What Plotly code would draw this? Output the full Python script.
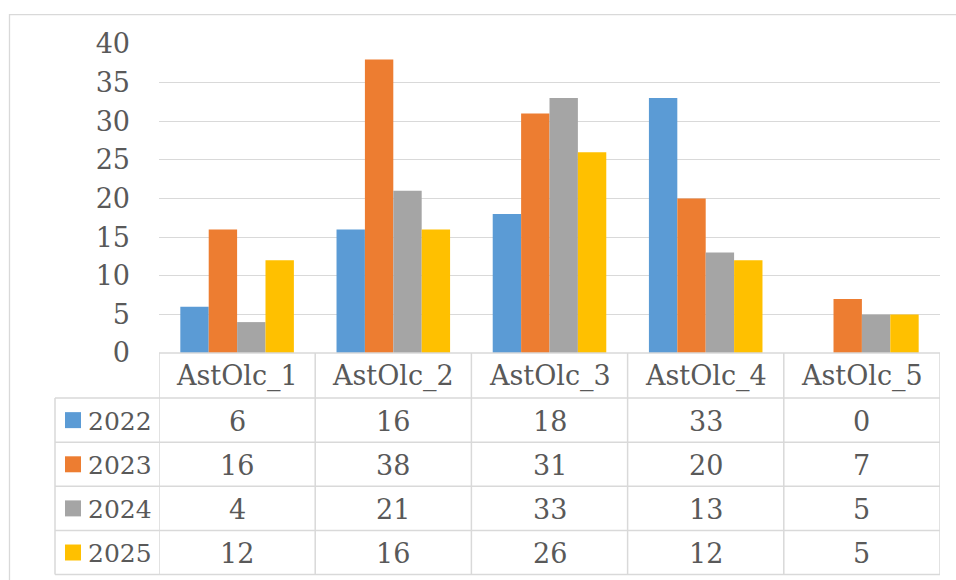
import plotly.graph_objects as go

categories = ["AstOlc_1", "AstOlc_2", "AstOlc_3", "AstOlc_4", "AstOlc_5"]
series_names = ["2022", "2023", "2024", "2025"]
v2022 = [6, 16, 18, 33, 0]
v2023 = [16, 38, 31, 20, 7]
v2024 = [4, 21, 33, 13, 5]
v2025 = [12, 16, 26, 12, 5]
series_values = [v2022, v2023, v2024, v2025]
colors = ["#5B9BD5", "#ED7D31", "#A5A5A5", "#FFC000"]
y_ticks = [0, 5, 10, 15, 20, 25, 30, 35, 40]

# ---- layout geometry (pixels) ----
FW, FH = 956, 580
L, R, T = 159, 16, 44
PLOT_BOTTOM = 353.3
B = FH - PLOT_BOTTOM
PW = FW - L - R
PH = FH - T - B

FONT = "DejaVu Serif"
TXT = "#595959"
GRID = "#D9D9D9"
FS = 27
FS_LEG = 25


def px_x(px):
    return (px - L) / PW


def px_y(py):
    return (FH - B - py) / PH


fig = go.Figure()
for name, vals, col in zip(series_names, series_values, colors):
    fig.add_trace(go.Bar(x=categories, y=vals, name=name, marker=dict(color=col, line=dict(width=0))))

shapes = []
annotations = []

# outer chart frame
shapes.append(dict(type="rect", xref="paper", yref="paper",
                   x0=px_x(9.5), x1=px_x(990), y0=px_y(14.5), y1=px_y(620),
                   line=dict(color=GRID, width=1.3), fillcolor="rgba(0,0,0,0)", layer="below"))

# table geometry
row_tops = [353.3, 398.3, 442.7, 486.7, 531.0, 575.0]
legend_left = 55
n = len(categories)

shapes.append(dict(type="line", xref="x", yref="paper", x0=-0.5, x1=n - 0.5,
                   y0=px_y(row_tops[0]), y1=px_y(row_tops[0]), line=dict(color=GRID, width=1.5)))
for ry in row_tops[1:]:
    shapes.append(dict(type="line", xref="paper", yref="paper", x0=px_x(legend_left), x1=1,
                       y0=px_y(ry), y1=px_y(ry), line=dict(color=GRID, width=1.5)))
shapes.append(dict(type="line", xref="paper", yref="paper", x0=px_x(legend_left), x1=px_x(legend_left),
                   y0=px_y(row_tops[1]), y1=px_y(row_tops[-1]), line=dict(color=GRID, width=1.5)))
for i in range(n + 1):
    shapes.append(dict(type="line", xref="x", yref="paper", x0=i - 0.5, x1=i - 0.5,
                       y0=px_y(row_tops[0]), y1=px_y(row_tops[-1]), line=dict(color=GRID, width=1.5)))

# header text
hy = px_y((row_tops[0] + row_tops[1]) / 2 + 1)
for i, c in enumerate(categories):
    annotations.append(dict(xref="x", yref="paper", x=i, y=hy, text=c, showarrow=False,
                            xanchor="center", yanchor="middle", font=dict(family=FONT, size=FS, color=TXT)))

# rows
for r, (name, vals, col) in enumerate(zip(series_names, series_values, colors)):
    cy = (row_tops[r + 1] + row_tops[r + 2]) / 2
    shapes.append(dict(type="rect", xref="paper", yref="paper",
                       x0=px_x(65), x1=px_x(81), y0=px_y(cy - 8), y1=px_y(cy + 8),
                       fillcolor=col, line=dict(width=0)))
    annotations.append(dict(xref="paper", yref="paper", x=px_x(86), y=px_y(cy + 1), text=name, showarrow=False,
                            xanchor="left", yanchor="middle", font=dict(family=FONT, size=FS_LEG, color=TXT)))
    for i, v in enumerate(vals):
        annotations.append(dict(xref="x", yref="paper", x=i, y=px_y(cy + 1), text=str(v), showarrow=False,
                                xanchor="center", yanchor="middle", font=dict(family=FONT, size=FS, color=TXT)))

fig.update_layout(
    width=FW, height=FH,
    margin=dict(l=L, r=R, t=T, b=B, pad=0),
    paper_bgcolor="white", plot_bgcolor="white",
    barmode="group", bargap=0.273, bargroupgap=0,
    showlegend=False,
    shapes=shapes, annotations=annotations,
    font=dict(family=FONT, size=FS, color=TXT),
)
fig.update_xaxes(showticklabels=False, showgrid=False, zeroline=False, showline=False,
                 range=[-0.5, n - 0.5], fixedrange=True)
fig.update_yaxes(range=[0, 40], tickvals=y_ticks, showgrid=True, gridcolor=GRID, gridwidth=1.3,
                 zeroline=False, showline=False, ticks="", ticklabelstandoff=28,
                 tickfont=dict(family=FONT, size=FS, color=TXT), fixedrange=True)

fig.write_html("out.html")
